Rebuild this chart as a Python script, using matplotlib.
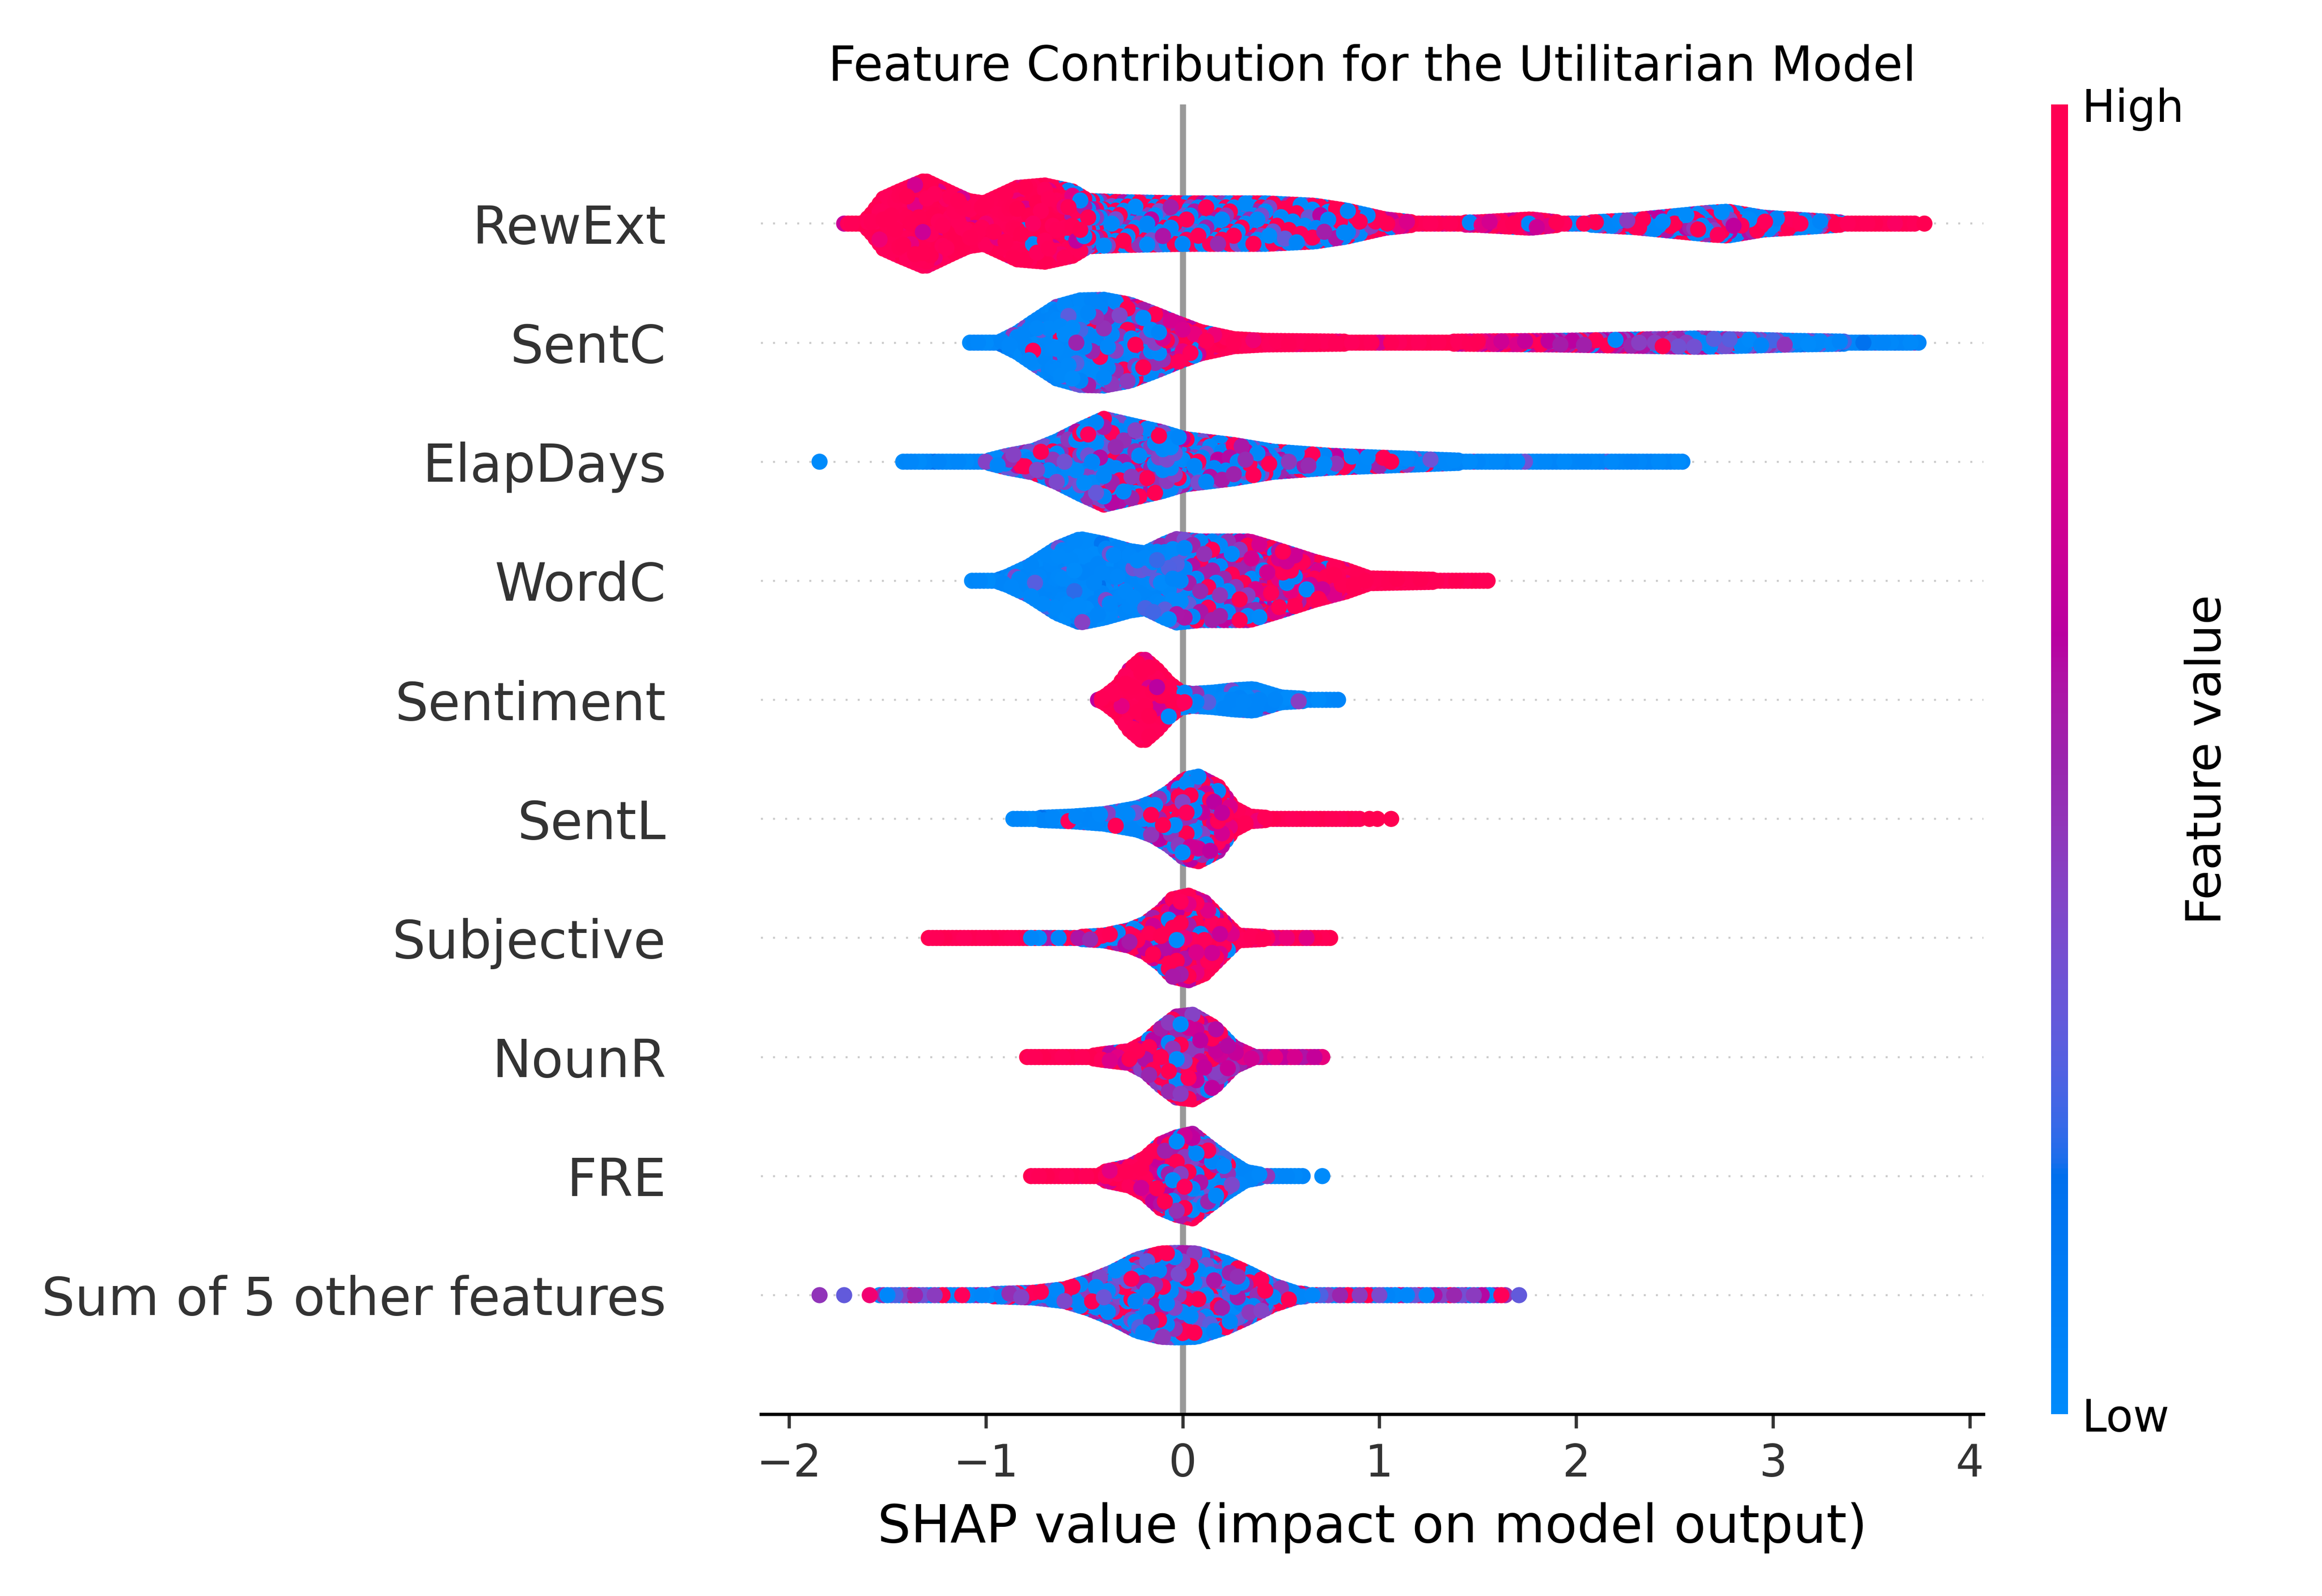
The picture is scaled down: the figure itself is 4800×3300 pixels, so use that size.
import numpy as np
import matplotlib.pyplot as plt
from matplotlib.cm import ScalarMappable
from matplotlib.colors import LinearSegmentedColormap

plt.switch_backend('agg')

# Features, top row first
features = ["RewExt", "SentC", "ElapDays", "WordC", "Sentiment", "SentL",
            "Subjective", "NounR", "FRE", "Sum of 5 other features"]

# Per row:
#   *_x / *_w      : swarm outline (SHAP value, half height of the swarm in row units)
#   *_cx           : SHAP values where the colour mix is read
#   *_lo / *_hi    : share of dots with a low (blue) / high (red) feature value there
#   *_mid          : feature value of the remaining (purple) dots there
#   *_lx / *_lc    : isolated outlier dots (SHAP value, feature value)
rewext_x = [-1.72, -1.62, -1.58, -1.52, -1.44, -1.31, -1.17, -1.09, -1.01, -0.84, -0.70, -0.56,
            -0.48, -0.31, 0.01, 0.42, 0.67, 0.83, 1.03, 1.20, 1.50, 1.77, 1.97, 2.30, 2.67,
            2.77, 2.95, 3.24, 3.44, 3.72]
rewext_w = [0.0, 0.01, 0.08, 0.21, 0.27, 0.36, 0.25, 0.19, 0.17, 0.30, 0.32, 0.27,
            0.19, 0.18, 0.17, 0.17, 0.15, 0.11, 0.035, 0.005, 0.01, 0.035, 0.0, 0.03, 0.09,
            0.10, 0.05, 0.02, 0.0, 0.0]
rewext_cx = [-1.72, -0.60, -0.50, 0.90, 1.10, 1.90, 2.00, 3.30, 3.40, 3.72]
rewext_lo = [0.00, 0.02, 0.45, 0.45, 0.05, 0.05, 0.45, 0.45, 0.05, 0.00]
rewext_hi = [0.90, 0.85, 0.30, 0.30, 0.50, 0.50, 0.35, 0.35, 0.85, 0.90]
rewext_mid = [0.80, 0.80, 0.45, 0.45, 0.72, 0.72, 0.50, 0.50, 0.80, 0.80]
rewext_lx = [3.77]
rewext_lc = [1.0]

sentc_x = [-1.08, -0.93, -0.84, -0.76, -0.64, -0.52, -0.40, -0.27, -0.15, -0.03, 0.09, 0.26,
           0.42, 1.07, 1.89, 2.62, 3.11, 3.75]
sentc_w = [0.0, 0.005, 0.08, 0.17, 0.30, 0.355, 0.36, 0.32, 0.245, 0.165, 0.09, 0.03,
           0.015, 0.005, 0.015, 0.035, 0.015, 0.0]
sentc_cx = [-1.08, -0.60, -0.45, -0.25, -0.05, 0.15, 0.25, 1.20, 1.50, 1.90, 2.30, 2.80, 3.10, 3.75]
sentc_lo = [0.95, 0.90, 0.55, 0.45, 0.20, 0.05, 0.00, 0.00, 0.00, 0.05, 0.15, 0.30, 0.60, 0.80]
sentc_hi = [0.00, 0.02, 0.10, 0.15, 0.30, 0.60, 0.95, 0.95, 0.50, 0.20, 0.10, 0.05, 0.00, 0.00]
sentc_mid = [0.30, 0.35, 0.40, 0.45, 0.60, 0.75, 0.80, 0.80, 0.75, 0.60, 0.50, 0.40, 0.30, 0.25]
sentc_lx = []
sentc_lc = []

elapdays_x = [-1.42, -1.01, -0.89, -0.76, -0.64, -0.52, -0.40, -0.27, -0.11, 0.01, 0.26, 0.46,
              0.75, 1.07, 1.48, 2.54]
elapdays_w = [0.0, 0.0, 0.05, 0.09, 0.17, 0.27, 0.36, 0.31, 0.25, 0.19, 0.14, 0.085,
              0.05, 0.03, 0.005, 0.0]
elapdays_cx = [-1.42, -1.00, -0.90, 0.30, 0.80, 1.10, 1.50, 2.54]
elapdays_lo = [0.95, 0.90, 0.45, 0.45, 0.55, 0.70, 0.95, 0.95]
elapdays_hi = [0.00, 0.02, 0.12, 0.18, 0.18, 0.12, 0.00, 0.00]
elapdays_mid = [0.30, 0.30, 0.42, 0.48, 0.50, 0.50, 0.30, 0.30]
elapdays_lx = [-1.845]
elapdays_lc = [0.0]

wordc_x = [-1.07, -0.95, -0.89, -0.78, -0.64, -0.52, -0.40, -0.27, -0.19, -0.09, -0.03, 0.09,
           0.34, 0.50, 0.67, 0.83, 0.95, 1.55]
wordc_w = [0.0, 0.0, 0.035, 0.12, 0.27, 0.35, 0.31, 0.25, 0.23, 0.31, 0.35, 0.33,
           0.33, 0.25, 0.16, 0.09, 0.02, 0.0]
wordc_cx = [-1.07, -0.20, -0.05, 0.20, 0.40, 0.70, 0.90, 1.55]
wordc_lo = [0.95, 0.85, 0.50, 0.35, 0.20, 0.05, 0.00, 0.00]
wordc_hi = [0.00, 0.00, 0.05, 0.15, 0.30, 0.55, 1.00, 1.00]
wordc_mid = [0.25, 0.30, 0.40, 0.50, 0.60, 0.70, 0.80, 0.80]
wordc_lx = []
wordc_lc = []

sentiment_x = [-0.43, -0.40, -0.33, -0.27, -0.20, -0.13, -0.07, -0.01, 0.05, 0.15, 0.26, 0.36,
               0.50, 0.67, 0.80]
sentiment_w = [0.0, 0.02, 0.11, 0.25, 0.35, 0.25, 0.14, 0.065, 0.05, 0.06, 0.08, 0.09,
               0.02, 0.005, 0.0]
sentiment_cx = [-0.43, -0.08, 0.00, 0.08, 0.15, 0.80]
sentiment_lo = [0.00, 0.00, 0.30, 0.60, 0.85, 0.95]
sentiment_hi = [0.95, 0.80, 0.30, 0.10, 0.00, 0.00]
sentiment_mid = [0.75, 0.70, 0.50, 0.45, 0.40, 0.30]
sentiment_lx = []
sentiment_lc = []

sentl_x = [-0.86, -0.56, -0.40, -0.23, -0.15, -0.07, 0.01, 0.08, 0.18, 0.26, 0.34, 0.46, 0.91]
sentl_w = [0.0, 0.02, 0.04, 0.09, 0.14, 0.22, 0.33, 0.355, 0.27, 0.09, 0.02, 0.005, 0.0]
sentl_cx = [-0.86, -0.25, -0.10, 0.15, 0.28, 0.91]
sentl_lo = [0.95, 0.85, 0.35, 0.30, 0.00, 0.00]
sentl_hi = [0.02, 0.05, 0.25, 0.30, 0.90, 1.00]
sentl_mid = [0.30, 0.35, 0.50, 0.55, 0.75, 0.80]
sentl_lx = [0.95, 0.99, 1.06]
sentl_lc = [1.0, 1.0, 1.0]

subjective_x = [-1.29, -0.56, -0.40, -0.27, -0.19, -0.11, -0.05, 0.03, 0.11, 0.20, 0.28, 0.46, 0.76]
subjective_w = [0.0, 0.005, 0.02, 0.065, 0.12, 0.22, 0.325, 0.355, 0.30, 0.15, 0.02, 0.005, 0.0]
subjective_cx = [-1.29, -0.85, -0.75, -0.35, -0.20, 0.20, 0.30, 0.76]
subjective_lo = [0.00, 0.00, 0.50, 0.45, 0.10, 0.10, 0.02, 0.00]
subjective_hi = [1.00, 0.95, 0.40, 0.40, 0.50, 0.50, 0.75, 0.80]
subjective_mid = [0.80, 0.80, 0.50, 0.50, 0.65, 0.65, 0.75, 0.75]
subjective_lx = []
subjective_lc = []

nounr_x = [-0.79, -0.48, -0.40, -0.27, -0.19, -0.11, -0.03, 0.05, 0.16, 0.26, 0.36, 0.72]
nounr_w = [0.0, 0.005, 0.025, 0.05, 0.12, 0.24, 0.34, 0.355, 0.25, 0.08, 0.005, 0.0]
nounr_cx = [-0.79, -0.45, -0.30, -0.10, 0.20, 0.30, 0.72]
nounr_lo = [0.00, 0.00, 0.10, 0.15, 0.10, 0.00, 0.00]
nounr_hi = [1.00, 0.90, 0.50, 0.25, 0.20, 0.05, 0.00]
nounr_mid = [0.80, 0.80, 0.60, 0.50, 0.55, 0.65, 0.65]
nounr_lx = []
nounr_lc = []

fre_x = [-0.77, -0.42, -0.40, -0.27, -0.19, -0.11, -0.03, 0.05, 0.13, 0.22, 0.32, 0.42, 0.61]
fre_w = [0.0, 0.0, 0.035, 0.08, 0.15, 0.27, 0.325, 0.355, 0.25, 0.14, 0.035, 0.005, 0.0]
fre_cx = [-0.77, -0.40, -0.10, 0.10, 0.35, 0.61]
fre_lo = [0.00, 0.00, 0.15, 0.35, 0.85, 0.95]
fre_hi = [1.00, 0.80, 0.40, 0.20, 0.00, 0.00]
fre_mid = [0.80, 0.75, 0.60, 0.45, 0.30, 0.30]
fre_lx = [0.71]
fre_lc = [0.0]

other_x = [-1.54, -1.05, -0.76, -0.60, -0.48, -0.36, -0.23, -0.11, -0.03, 0.07, 0.22, 0.34,
           0.46, 0.58, 0.67, 1.64]
other_w = [0.0, 0.005, 0.02, 0.05, 0.11, 0.19, 0.30, 0.35, 0.355, 0.35, 0.27, 0.18,
           0.08, 0.015, 0.005, 0.0]
other_cx = [-1.54, -0.60, 0.60, 1.64]
other_lo = [0.40, 0.42, 0.42, 0.30]
other_hi = [0.10, 0.20, 0.18, 0.10]
other_mid = [0.40, 0.42, 0.40, 0.45]
other_lx = [-1.845, -1.72, -1.59, 1.71]
other_lc = [0.45, 0.30, 0.85, 0.30]

rows = [
    (rewext_x, rewext_w, rewext_cx, rewext_lo, rewext_hi, rewext_mid, rewext_lx, rewext_lc),
    (sentc_x, sentc_w, sentc_cx, sentc_lo, sentc_hi, sentc_mid, sentc_lx, sentc_lc),
    (elapdays_x, elapdays_w, elapdays_cx, elapdays_lo, elapdays_hi, elapdays_mid, elapdays_lx, elapdays_lc),
    (wordc_x, wordc_w, wordc_cx, wordc_lo, wordc_hi, wordc_mid, wordc_lx, wordc_lc),
    (sentiment_x, sentiment_w, sentiment_cx, sentiment_lo, sentiment_hi, sentiment_mid, sentiment_lx, sentiment_lc),
    (sentl_x, sentl_w, sentl_cx, sentl_lo, sentl_hi, sentl_mid, sentl_lx, sentl_lc),
    (subjective_x, subjective_w, subjective_cx, subjective_lo, subjective_hi, subjective_mid, subjective_lx, subjective_lc),
    (nounr_x, nounr_w, nounr_cx, nounr_lo, nounr_hi, nounr_mid, nounr_lx, nounr_lc),
    (fre_x, fre_w, fre_cx, fre_lo, fre_hi, fre_mid, fre_lx, fre_lc),
    (other_x, other_w, other_cx, other_lo, other_hi, other_mid, other_lx, other_lc),
]


# shap style red/blue colormap, interpolated in LCh space
def lch2rgb(l, c, h):
    a, b = c * np.cos(h), c * np.sin(h)
    fy = (l + 16.0) / 116.0
    f = np.array([fy + a / 500.0, fy, fy - b / 200.0])
    f = np.where(f > 6 / 29, f ** 3, 3 * (6 / 29) ** 2 * (f - 4 / 29))
    xyz = f * np.array([0.95047, 1.0, 1.08883])
    m = np.array([[3.2406, -1.5372, -0.4986],
                  [-0.9689, 1.8758, 0.0415],
                  [0.0557, -0.2040, 1.0570]])
    lin = m @ xyz
    rgb = np.where(lin > 0.0031308, 1.055 * np.abs(lin) ** (1 / 2.4) - 0.055, 12.92 * lin)
    return np.clip(rgb, 0, 1)


nsteps = 100
l_vals = list(np.linspace(54., 40., nsteps // 2)) + list(np.linspace(40., 54., nsteps // 2))
c_vals = np.linspace(70., 90., nsteps)
h_vals = np.linspace(4.6588, 0.35470565 + 2 * np.pi, nsteps)
stops = [(p, lch2rgb(l, c, h)) for p, l, c, h in zip(np.linspace(0, 1, nsteps), l_vals, c_vals, h_vals)]
red_blue = LinearSegmentedColormap.from_list('red_blue', stops)


def swarm(xk, wk, cx, lo, hi, mid, lx, lc, dx=0.02, dy=0.035):
    # fill the outline with dots, column by column
    xs, ys = [], []
    for x in np.arange(xk[0], xk[-1] + 1e-9, dx):
        hw = np.interp(x, xk, wk)
        n = int(round(2 * hw / dy)) + 1
        col = np.linspace(-hw, hw, n) if n > 1 else np.zeros(1)
        xs.extend([x] * n)
        ys.extend(col)
    xs = np.array(xs)
    ys = np.array(ys)
    # share out low / high / middle feature values as read for that part of the row
    k = np.arange(len(xs))
    u1 = (k * 0.6180339887) % 1.0
    u2 = (k * 0.7548776662) % 1.0
    p_lo = np.interp(xs, cx, lo)
    p_hi = np.interp(xs, cx, hi)
    vals = np.interp(xs, cx, mid) + 0.3 * (u2 - 0.5)
    vals = np.where(u1 < p_lo, 0.05 * u2, vals)
    vals = np.where(u1 >= 1 - p_hi, 1 - 0.05 * u2, vals)
    vals = np.clip(vals, 0, 1)
    order = np.argsort((k * 0.4142135624 + 0.17) % 1.0)
    xs = np.concatenate([xs[order], lx])
    ys = np.concatenate([ys[order], np.zeros(len(lx))])
    vals = np.concatenate([vals[order], lc])
    return xs, ys, vals


fig = plt.figure(figsize=(8, 5.5))
ax = fig.add_axes([0.3277, 0.1139, 0.5265, 0.8206])
cax = fig.add_axes([0.8833, 0.1139, 0.0073, 0.8206])

axis_color = "#333333"
n_rows = len(features)
ax.axvline(0, color="#999999", zorder=-1)
for i, row in enumerate(rows):
    pos = n_rows - 1 - i
    ax.axhline(y=pos, color="#cccccc", lw=0.5, dashes=(1, 5), zorder=-1)
    xs, ys, vals = swarm(*row)
    ax.scatter(xs, pos + ys, c=vals, cmap=red_blue, vmin=0, vmax=1, s=16,
               linewidths=0, zorder=3, rasterized=True)

ax.set_xlim(-2.143, 4.07)
ax.set_ylim(-1, n_rows)
ax.set_xticks(range(-2, 5))
ax.set_yticks(range(n_rows))
ax.set_yticklabels(features[::-1], fontsize=13)
ax.tick_params(color=axis_color, labelcolor=axis_color)
ax.tick_params('y', length=20, width=0.5, left=False)
ax.tick_params('x', labelsize=11)
for side in ['top', 'right', 'left']:
    ax.spines[side].set_visible(False)
ax.set_xlabel("SHAP value (impact on model output)", fontsize=13)
ax.set_title("Feature Contribution for the Utilitarian Model", fontsize=12)

cb = fig.colorbar(ScalarMappable(cmap=red_blue), cax=cax, ticks=[0, 1])
cb.set_ticklabels(["Low", "High"])
cb.set_label("Feature value", size=12, labelpad=0)
cb.ax.tick_params(labelsize=11, length=0)
cb.outline.set_visible(False)

fig.savefig('out.png', dpi=600)
